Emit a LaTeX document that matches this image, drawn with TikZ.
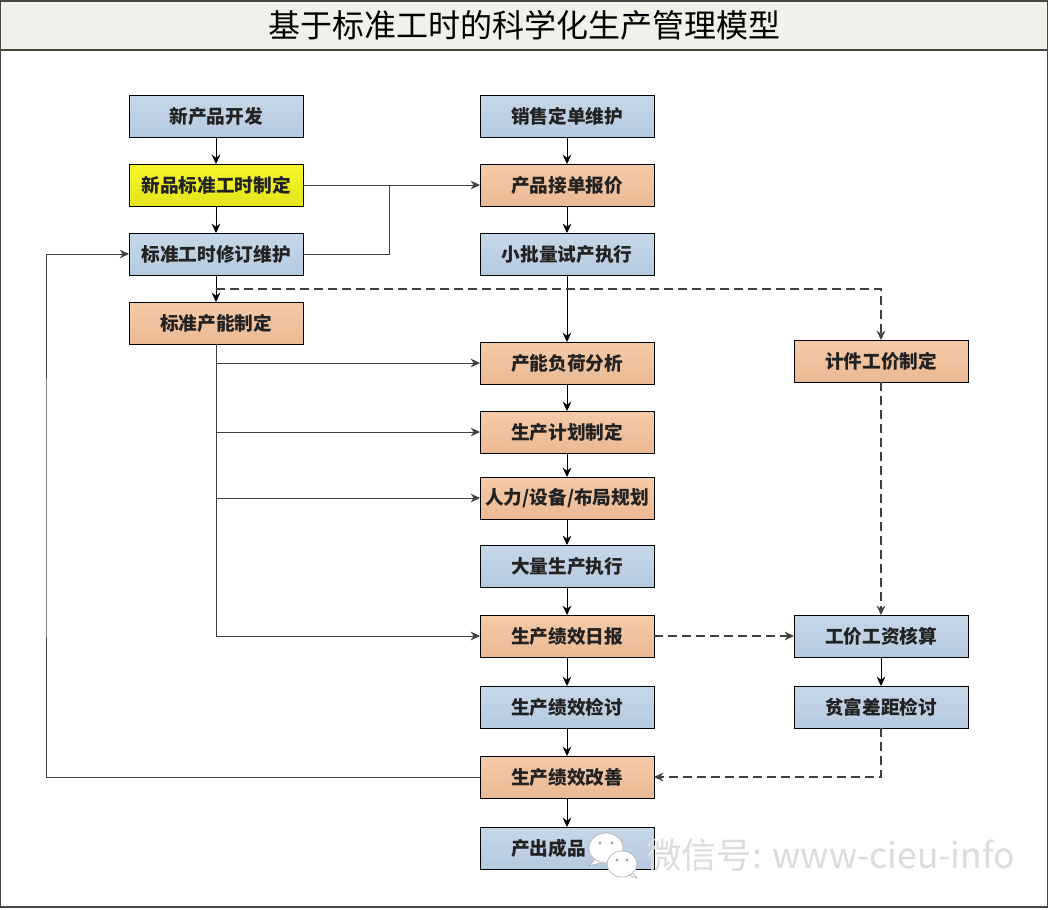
\documentclass[tikz,border=0pt]{standalone}
\usepackage{fontspec}
\setmainfont{Noto Sans CJK SC}
\usepackage{xcolor}
\usetikzlibrary{positioning, arrows.meta, shadows}
\definecolor{frameline}{HTML}{45483F}
\definecolor{titlewash}{HTML}{EFF1EA}
\definecolor{flowgrey}{HTML}{404040}
\definecolor{boxtext}{HTML}{222222}
\definecolor{bluetop}{HTML}{C6D7E8}
\definecolor{bluebot}{HTML}{B6CAE0}
\definecolor{orangetop}{HTML}{F5CBA9}
\definecolor{orangebot}{HTML}{EBB994}
\definecolor{yellowtop}{HTML}{F7F72C}
\definecolor{yellowbot}{HTML}{E4E41C}
\definecolor{markgrey}{HTML}{D9DDDD}

\begin{document}
\begin{tikzpicture}[x=0.75pt, y=-0.75pt, font=\fontsize{14pt}{16pt}\selectfont,
    >={Stealth[length=7pt,width=6.5pt]},
    flowbox/.style={draw=black, line width=0.7pt, minimum width=130.5pt, minimum height=31.5pt,
      inner sep=0pt, outer sep=0pt, text=boxtext, font=\fontsize{14pt}{16pt}\selectfont\bfseries,
      drop shadow={shadow xshift=1pt, shadow yshift=-1pt, opacity=0.18}},
    bluebox/.style={flowbox, top color=bluetop, bottom color=bluebot},
    orangebox/.style={flowbox, top color=orangetop, bottom color=orangebot},
    yellowbox/.style={flowbox, top color=yellowtop, bottom color=yellowbot},
    solidflow/.style={->, line width=0.7pt, draw=black},
    sideflow/.style={->, line width=0.7pt, draw=flowgrey},
    dashflow/.style={->, line width=1pt, draw=flowgrey, dash pattern=on 7pt off 3.5pt},
    bubble/.style={draw=gray!60, fill=white, line width=0.5pt},
    markdot/.style={fill=gray!70, inner sep=0pt, minimum size=2.5pt, circle}]
    \useasboundingbox (0,0) rectangle (1050,910);
    \node[draw=frameline, line width=0.9pt, fill=white, minimum width=785.25pt, minimum height=679.5pt,
          inner sep=0pt, outer sep=0pt] (page) at (524,454) {};
    \node[draw=frameline, line width=0.9pt, fill=titlewash, minimum width=785.25pt, minimum height=36.75pt,
          inner sep=0pt, outer sep=0pt, font=\fontsize{24pt}{26pt}\selectfont] (title) at (524,25.5)
      {基于标准工时的科学化生产管理模型};

    % left column
    \node[bluebox] (newproduct) at (216,116) {新产品开发};
    \node[yellowbox, below=20.25pt of newproduct] (newstd) {新品标准工时制定};
    \node[bluebox, below=20.25pt of newstd] (stdrevise) {标准工时修订维护};
    \node[orangebox, below=20.25pt of stdrevise] (stdcapacity) {标准产能制定};

    % middle column
    \node[bluebox] (salesorder) at (567,116) {销售定单维护};
    \node[orangebox, below=20.25pt of salesorder] (quote) {产品接单报价};
    \node[bluebox, below=20.25pt of quote] (pilotrun) {小批量试产执行};
    \node[orangebox, below=50.25pt of pilotrun] (loadcheck) {产能负荷分析};
    \node[orangebox, below=20.25pt of loadcheck] (prodplan) {生产计划制定};
    \node[orangebox, below=18pt of prodplan] (layoutplan) {人力/设备/布局规划};
    \node[bluebox, below=19.5pt of layoutplan] (massrun) {大量生产执行};
    \node[orangebox, below=21pt of massrun] (dailyreport) {生产绩效日报};
    \node[bluebox, below=21.75pt of dailyreport] (perfreview) {生产绩效检讨};
    \node[orangebox, below=21pt of perfreview] (perfimprove) {生产绩效改善};
    \node[bluebox, below=21.75pt of perfimprove] (output) {产出成品\phantom{入库}};

    % right column
    \node[orangebox, right=105pt of loadcheck, yshift=1.5pt] (piecerate) {计件工价制定};
    \node[bluebox, right=105pt of dailyreport] (wagecalc) {工价工资核算};
    \node[bluebox, below=21.75pt of wagecalc] (gapreview) {贫富差距检讨};

    \coordinate (mergeup) at (389,185);
    \coordinate (dashstart) at (216,289);
    \coordinate (backrail) at (46,500);

    \foreach \from/\to in {newproduct/newstd, newstd/stdrevise, stdrevise/stdcapacity,
        salesorder/quote, quote/pilotrun, pilotrun/loadcheck, loadcheck/prodplan,
        prodplan/layoutplan, layoutplan/massrun, massrun/dailyreport, dailyreport/perfreview,
        perfreview/perfimprove, perfimprove/output, wagecalc/gapreview}
      \draw[solidflow] (\from) -- (\to);

    \draw[sideflow] (newstd) -- (quote);
    \draw[line width=0.7pt, draw=flowgrey] (stdrevise.east) -| (mergeup);
    \foreach \to in {loadcheck, prodplan, layoutplan, dailyreport}
      \draw[sideflow] (stdcapacity.south) |- (\to.west);
    \draw[sideflow] (perfimprove.west) -| (backrail) |- (stdrevise.west);

    \draw[dashflow] (dashstart) -| (piecerate.north);
    \draw[dashflow] (piecerate) -- (wagecalc);
    \draw[dashflow] (dailyreport) -- (wagecalc);
    \draw[dashflow] (gapreview.south) |- (perfimprove.east);

    % watermark
    \draw[bubble] (596,858) -- (589,866) -- (604,862);
    \draw[bubble] (606,848) ellipse (17 and 15);
    \draw[bubble] (628,875) -- (637,878) -- (632,872);
    \draw[bubble] (622,864) ellipse (15 and 13);
    \node[markdot] (dota) at (600,843) {};
    \node[markdot] (dotb) at (612,843) {};
    \node[markdot] (dotc) at (617,860) {};
    \node[markdot] (dotd) at (627,860) {};
    \node[anchor=west, inner sep=0pt, text=markgrey, font=\fontsize{26.5pt}{29pt}\selectfont] (wechatmark) at (646,855)
      {微信号: www-cieu-info};
  \end{tikzpicture}
\end{document}
